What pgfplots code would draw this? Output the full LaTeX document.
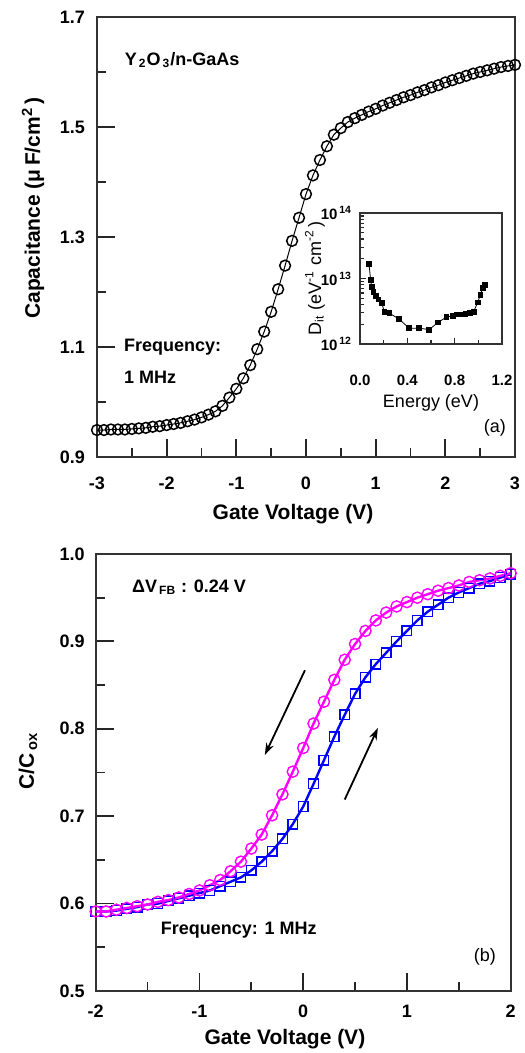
\documentclass[border=0pt]{standalone}
\usepackage{fontspec}
\setmainfont{Liberation Sans}
\usepackage{pgfplots}
\pgfplotsset{compat=1.18}
\usetikzlibrary{arrows.meta}
\definecolor{mymag}{RGB}{255,0,255}
\definecolor{myblue}{RGB}{0,0,255}

\pgfplotstableread{
V C
-3.0 0.949
-2.9 0.949
-2.8 0.950
-2.7 0.950
-2.6 0.950
-2.5 0.951
-2.4 0.952
-2.3 0.953
-2.2 0.955
-2.1 0.956
-2.0 0.958
-1.9 0.960
-1.8 0.962
-1.7 0.965
-1.6 0.968
-1.5 0.972
-1.4 0.977
-1.3 0.983
-1.2 0.993
-1.1 1.008
-1.0 1.024
-0.9 1.043
-0.8 1.067
-0.7 1.096
-0.6 1.128
-0.5 1.164
-0.4 1.205
-0.3 1.248
-0.2 1.293
-0.1 1.335
0.0 1.378
0.1 1.412
0.2 1.440
0.3 1.465
0.4 1.486
0.5 1.498
0.6 1.509
0.7 1.516
0.8 1.522
0.9 1.528
1.0 1.533
1.1 1.539
1.2 1.544
1.3 1.549
1.4 1.554
1.5 1.558
1.6 1.563
1.7 1.567
1.8 1.572
1.9 1.576
2.0 1.581
2.1 1.585
2.2 1.589
2.3 1.593
2.4 1.597
2.5 1.600
2.6 1.603
2.7 1.606
2.8 1.609
2.9 1.611
3.0 1.613
}\cvdata

\pgfplotstableread{
E D
0.076 1.66e13
0.090 9.5e12
0.099 7.4e12
0.113 6.3e12
0.133 5.4e12
0.155 4.8e12
0.184 4.2e12
0.206 3.1e12
0.249 2.95e12
0.330 2.4e12
0.415 1.74e12
0.500 1.74e12
0.585 1.66e12
0.660 2.14e12
0.730 2.57e12
0.785 2.69e12
0.820 2.82e12
0.853 2.82e12
0.890 2.88e12
0.926 2.95e12
0.960 3.1e12
0.994 4.3e12
1.017 5.6e12
1.037 7.1e12
1.057 7.9e12
}\ditdata

\pgfplotstableread{
V C
-2.0 0.591
-1.9 0.591
-1.8 0.593
-1.7 0.595
-1.6 0.597
-1.5 0.599
-1.4 0.602
-1.3 0.604
-1.2 0.607
-1.1 0.611
-1.0 0.615
-0.9 0.621
-0.8 0.627
-0.7 0.637
-0.6 0.648
-0.5 0.663
-0.4 0.679
-0.3 0.701
-0.2 0.725
-0.1 0.751
0.0 0.778
0.1 0.806
0.2 0.831
0.3 0.856
0.4 0.879
0.5 0.897
0.6 0.912
0.7 0.924
0.8 0.933
0.9 0.940
1.0 0.945
1.1 0.950
1.2 0.954
1.3 0.958
1.4 0.961
1.5 0.964
1.6 0.968
1.7 0.970
1.8 0.972
1.9 0.975
2.0 0.978
}\pinkdata

\pgfplotstableread{
V C
-2.0 0.591
-1.9 0.591
-1.8 0.592
-1.7 0.594
-1.6 0.596
-1.5 0.599
-1.4 0.600
-1.3 0.603
-1.2 0.606
-1.1 0.609
-1.0 0.612
-0.9 0.615
-0.8 0.620
-0.7 0.625
-0.6 0.630
-0.5 0.638
-0.4 0.648
-0.3 0.660
-0.2 0.674
-0.1 0.691
0.0 0.711
0.1 0.737
0.2 0.764
0.3 0.791
0.4 0.816
0.5 0.840
0.6 0.859
0.7 0.874
0.8 0.887
0.9 0.900
1.0 0.912
1.1 0.924
1.2 0.934
1.3 0.942
1.4 0.950
1.5 0.956
1.6 0.961
1.7 0.966
1.8 0.969
1.9 0.973
2.0 0.977
}\bluedata

\pgfplotsset{
  mystyle/.style={
    scale only axis,
    anchor=south west,
    axis line style={black!80, line width=0.9pt},
    every tick/.style={black!85, line width=0.9pt},
    major tick length=9pt, minor tick length=4.5pt,
    tick align=inside, xtick pos=bottom, ytick pos=left,
    /pgf/number format/assume math mode=true,
    tick label style={font=\bfseries\fontsize{9}{10}\selectfont},
    label style={font=\bfseries\fontsize{10.5}{12}\selectfont},
  }
}

\begin{document}
\begin{tikzpicture}
\path[use as bounding box] (0pt,0pt) rectangle (262pt,526.5pt);

% ---------- panel (a) ----------
\begin{axis}[mystyle,
  at={(48.5pt,298pt)}, width=209pt, height=220pt,
  xmin=-3, xmax=3, ymin=0.9, ymax=1.7,
  xtick={-3,-2,-1,0,1,2,3}, minor xtick={-2.5,-1.5,-0.5,0.5,1.5,2.5},
  ytick={0.9,1.1,1.3,1.5,1.7}, minor ytick={1.0,1.2,1.4,1.6},
  yticklabel style={/tikz/xshift=-2.5pt,/pgf/number format/.cd,fixed,fixed zerofill,precision=1},
  xticklabel style={/tikz/yshift=-6.5pt},
  xlabel={Gate Voltage (V)},
  ylabel={Capacitance (μ\,F/cm\textsuperscript{2}\,)},
  xlabel style={at={(axis description cs:0.469,-0.13)}, anchor=center},
  ylabel style={at={(axis description cs:-0.153,0.566)}, anchor=center},
]
\addplot[black, line width=0.5pt, mark=o, mark size=2.7pt,
  mark options={fill=white, line width=0.75pt}] table[x=V,y=C] {\cvdata};
\node[anchor=west, font=\bfseries\fontsize{9}{10}\selectfont] at (rel axis cs:0.05,0.902) {Y\textsubscript{\,2}O\textsubscript{\,3}/n-GaAs};
\node[anchor=west, font=\bfseries\fontsize{9}{10}\selectfont] at (rel axis cs:0.048,0.25) {Frequency:};
\node[anchor=west, font=\bfseries\fontsize{9}{10}\selectfont] at (rel axis cs:0.048,0.182) {1 MHz};
\node[anchor=center, font=\fontsize{9}{10}\selectfont] at (rel axis cs:0.952,0.066) {(a)};
\end{axis}

% ---------- inset ----------
\begin{axis}[
  scale only axis, anchor=south west,
  at={(180pt,354.5pt)}, width=71pt, height=65.5pt,
  axis line style={black!80, line width=0.6pt},
  every tick/.style={black!85, line width=0.6pt},
  major tick length=3pt, minor tick length=2pt,
  tick align=inside, xtick pos=bottom, ytick pos=left,
  ymode=log, xmin=0, xmax=1.2, ymin=1e12, ymax=1e14,
  xtick={0,0.4,0.8,1.2}, minor xtick={0.2,0.6,1.0},
  ytick={1e12,1e13,1e14},
  yticklabels={10\textsuperscript{\,12},10\textsuperscript{\,13},10\textsuperscript{\,14}},
  /pgf/number format/assume math mode=true,
  tick label style={font=\bfseries\fontsize{7.5}{8}\selectfont},
  xticklabel style={/tikz/yshift=-12pt,/pgf/number format/.cd,fixed,fixed zerofill,precision=1},
  yticklabel style={/tikz/xshift=-0.5pt},
  xlabel={Energy (eV)},
  ylabel={D\textsubscript{it} (eV\textsuperscript{-1} cm\textsuperscript{-2}\,)},
  label style={font=\fontsize{9}{10}\selectfont},
  xlabel style={at={(axis description cs:0.5,-0.45)}, anchor=center},
  ylabel style={at={(axis description cs:-0.317,0.5)}, anchor=center},
]
\addplot[black, line width=0.4pt, mark=square*, mark size=1.2pt] table[x=E,y=D] {\ditdata};
\end{axis}

% ---------- panel (b) ----------
\begin{axis}[mystyle,
  at={(47.85pt,31pt)}, width=207.5pt, height=218.5pt,
  xmin=-2, xmax=2, ymin=0.5, ymax=1.0,
  xtick={-2,-1,0,1,2}, minor xtick={-1.5,-0.5,0.5,1.5},
  ytick={0.5,0.6,0.7,0.8,0.9,1.0}, minor ytick={0.55,0.65,0.75,0.85,0.95},
  yticklabel style={/tikz/xshift=-2pt,/pgf/number format/.cd,fixed,fixed zerofill,precision=1},
  xticklabel style={/tikz/yshift=-3.5pt},
  xlabel={Gate Voltage (V)},
  ylabel={C/C\textsubscript{\,ox}},
  xlabel style={at={(axis description cs:0.456,-0.11)}, anchor=center},
  ylabel style={at={(axis description cs:-0.163,0.526)}, anchor=center},
]
\addplot[myblue, line width=1.2pt, mark=square, mark size=2.4pt,
  mark options={fill=white, line width=0.7pt}] table[x=V,y=C] {\bluedata};
\addplot[mymag, line width=1.2pt, mark=o, mark size=2.8pt,
  mark options={fill=white, line width=0.7pt}] table[x=V,y=C] {\pinkdata};
\draw[black, line width=0.9pt, -{Stealth[length=6pt,width=4pt]}] (axis cs:0.017,0.867) -- (axis cs:-0.37,0.770);
\draw[black, line width=0.9pt, -{Stealth[length=6pt,width=4pt]}] (axis cs:0.40,0.719) -- (axis cs:0.72,0.801);
\node[anchor=west, font=\bfseries\fontsize{9}{10}\selectfont] at (rel axis cs:0.071,0.925) {ΔV\textsubscript{\,FB} : 0.24 V};
\node[anchor=west, font=\bfseries\fontsize{9}{10}\selectfont] at (rel axis cs:0.14,0.14) {Frequency: 1 MHz};
\node[anchor=center, font=\fontsize{9}{10}\selectfont] at (rel axis cs:0.938,0.078) {(b)};
\end{axis}
\end{tikzpicture}
\end{document}
